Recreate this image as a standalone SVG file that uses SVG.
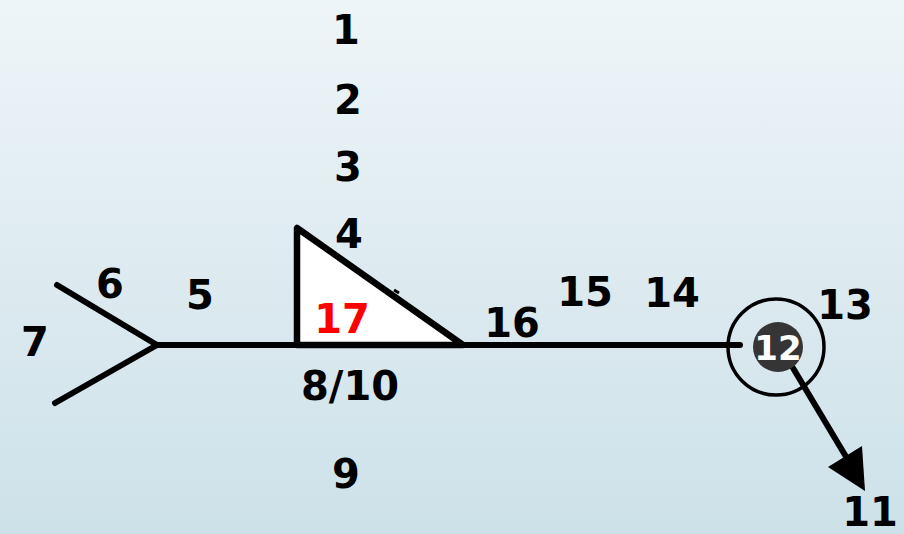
<svg xmlns="http://www.w3.org/2000/svg" width="904" height="534" viewBox="0 0 904 534">
<defs>
<linearGradient id="bg" x1="0" y1="0" x2="0" y2="1">
<stop offset="0" stop-color="#eef5f8"/>
<stop offset="1" stop-color="#cde1e9"/>
</linearGradient>
<style>
.lbl{font-family:"DejaVu Sans","Liberation Sans",sans-serif;font-weight:bold;font-size:40px;fill:#000;text-anchor:middle}
.ln{stroke:#000;stroke-width:6;stroke-linecap:round;fill:none}
</style>
</defs>
<rect width="904" height="534" fill="url(#bg)"/>
<g id="connectors">
<line class="ln" x1="157" y1="345" x2="740" y2="345"/>
<line class="ln" x1="157" y1="345" x2="57" y2="285"/>
<line class="ln" x1="157" y1="345" x2="55" y2="403"/>
<line class="ln" x1="793" y1="368" x2="848" y2="460" stroke-linecap="butt"/>
<path d="M865,491 L828,467 L862,446 Z" fill="#000"/>
</g>
<g id="triangle">
<path d="M297,228 L297,345 L463,345 Z" fill="#fff" stroke="#000" stroke-width="6.5" stroke-linejoin="round"/>
<line x1="394" y1="290" x2="399" y2="293" stroke="#000" stroke-width="3"/>
</g>
<g id="node13">
<circle cx="776" cy="347" r="48" fill="none" stroke="#000" stroke-width="3.5"/>
</g>
<g id="node12">
<circle cx="778" cy="347" r="25" fill="#353535"/>
<text x="778" y="360" class="lbl" style="fill:#fff;font-size:34px">12</text>
</g>
<g id="labels">
<text class="lbl" x="346" y="44">1</text>
<text class="lbl" x="348" y="114">2</text>
<text class="lbl" x="348" y="181">3</text>
<text class="lbl" x="349" y="248">4</text>
<text class="lbl" x="200" y="309">5</text>
<text class="lbl" x="110" y="298">6</text>
<text class="lbl" x="35" y="356">7</text>
<text class="lbl" x="342" y="333" style="fill:#ff0000">17</text>
<text class="lbl" x="350" y="400">8/10</text>
<text class="lbl" x="346" y="488">9</text>
<text class="lbl" x="512" y="337">16</text>
<text class="lbl" x="585" y="306">15</text>
<text class="lbl" x="672" y="307">14</text>
<text class="lbl" x="845" y="319">13</text>
<text class="lbl" x="870" y="526">11</text>
</g>
</svg>
